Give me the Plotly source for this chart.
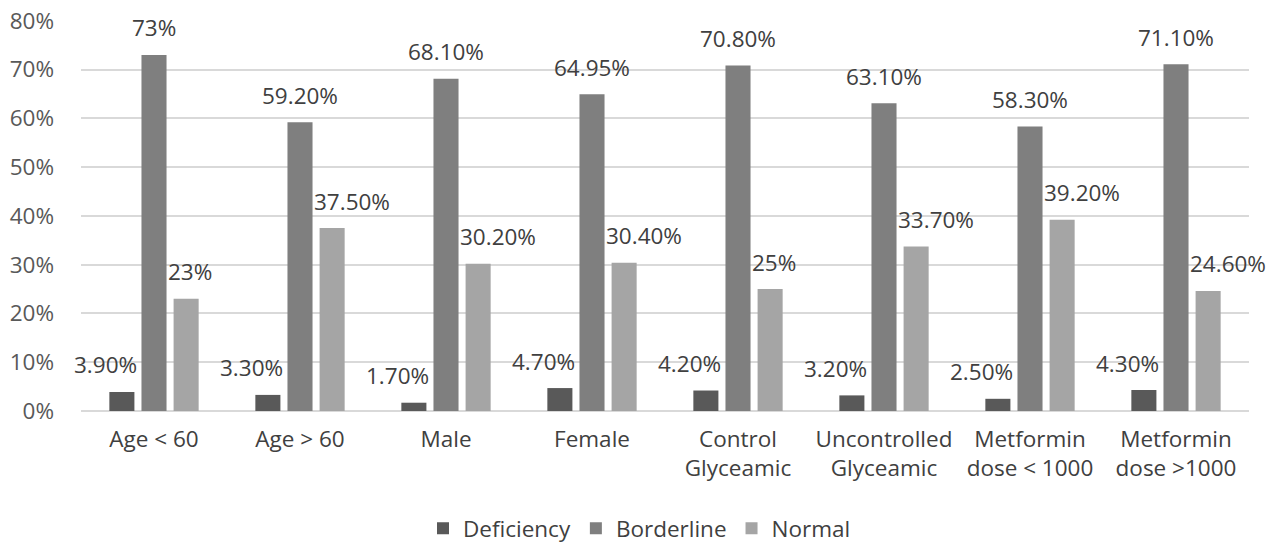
import plotly.graph_objects as go

categories = ["Age < 60", "Age > 60", "Male", "Female", "Control<br>Glyceamic",
              "Uncontrolled<br>Glyceamic", "Metformin<br>dose < 1000", "Metformin<br>dose >1000"]
deficiency = [0.039, 0.033, 0.017, 0.047, 0.042, 0.032, 0.025, 0.043]
borderline = [0.73, 0.592, 0.681, 0.6495, 0.708, 0.631, 0.583, 0.711]
normal = [0.23, 0.375, 0.302, 0.304, 0.25, 0.337, 0.392, 0.246]
def_labels = ["3.90%", "3.30%", "1.70%", "4.70%", "4.20%", "3.20%", "2.50%", "4.30%"]
bord_labels = ["73%", "59.20%", "68.10%", "64.95%", "70.80%", "63.10%", "58.30%", "71.10%"]
norm_labels = ["23%", "37.50%", "30.20%", "30.40%", "25%", "33.70%", "39.20%", "24.60%"]
series_names = ["Deficiency", "Borderline", "Normal"]
colors = ["#595959", "#7f7f7f", "#a5a5a5"]

W, H = 1279, 552
ML, MR, MT, MB = 81, 30, 20, 141
BARGAP, GROUPGAP = 0.34, 0.22
FONT = "Open Sans"
FS = 22.5
TXT = "#404040"

fig = go.Figure()
for name, vals, col in zip(series_names, [deficiency, borderline, normal], colors):
    fig.add_trace(go.Bar(x=categories, y=vals, name=name, marker=dict(color=col, line_width=0)))

plot_w = W - ML - MR
cat_px = plot_w / len(categories)
slot = cat_px * (1 - BARGAP) / 3
barw = slot * (1 - GROUPGAP)

annotations = []
for i, c in enumerate(categories):
    annotations.append(dict(x=c, y=deficiency[i], text=def_labels[i], xref="x", yref="y",
                            xanchor="right", yanchor="middle", showarrow=False,
                            xshift=-slot + barw / 2 + 5, yshift=27))
    annotations.append(dict(x=c, y=borderline[i], text=bord_labels[i], xref="x", yref="y",
                            xanchor="center", yanchor="middle", showarrow=False,
                            xshift=0, yshift=27))
    annotations.append(dict(x=c, y=normal[i], text=norm_labels[i], xref="x", yref="y",
                            xanchor="left", yanchor="middle", showarrow=False,
                            xshift=slot - barw / 2 - 8, yshift=27))

fig.update_layout(
    width=W, height=H,
    margin=dict(l=ML, r=MR, t=MT, b=MB, autoexpand=False),
    barmode="group", bargap=BARGAP, bargroupgap=GROUPGAP,
    plot_bgcolor="white", paper_bgcolor="white",
    font=dict(family=FONT, size=FS, color=TXT),
    annotations=annotations,
    legend=dict(orientation="h", x=0.5, xref="container", xanchor="center",
                y=-0.356, yanchor="bottom", font=dict(size=FS, color=TXT), traceorder="normal",
                itemwidth=30),
)
fig.update_yaxes(range=[0, 0.8015], tickvals=[0, 0.1, 0.2, 0.3, 0.4, 0.5, 0.6, 0.7, 0.8],
                 tickformat=".0%", gridcolor="#d9d9d9", gridwidth=1.5, zeroline=True,
                 zerolinecolor="#d9d9d9", zerolinewidth=1.5, showline=False, automargin=False,
                 ticklabelstandoff=26, ticklabeloverflow="allow",
                 tickfont=dict(size=FS, color="#595959"))
fig.update_xaxes(range=[-0.5, len(categories) - 0.5], showline=False, ticks="",
                 ticklabelstandoff=12, automargin=False,
                 tickfont=dict(size=FS, color=TXT))
fig.write_html("out.html", config={"displayModeBar": False},
               post_script="document.body.style.margin='0';")
